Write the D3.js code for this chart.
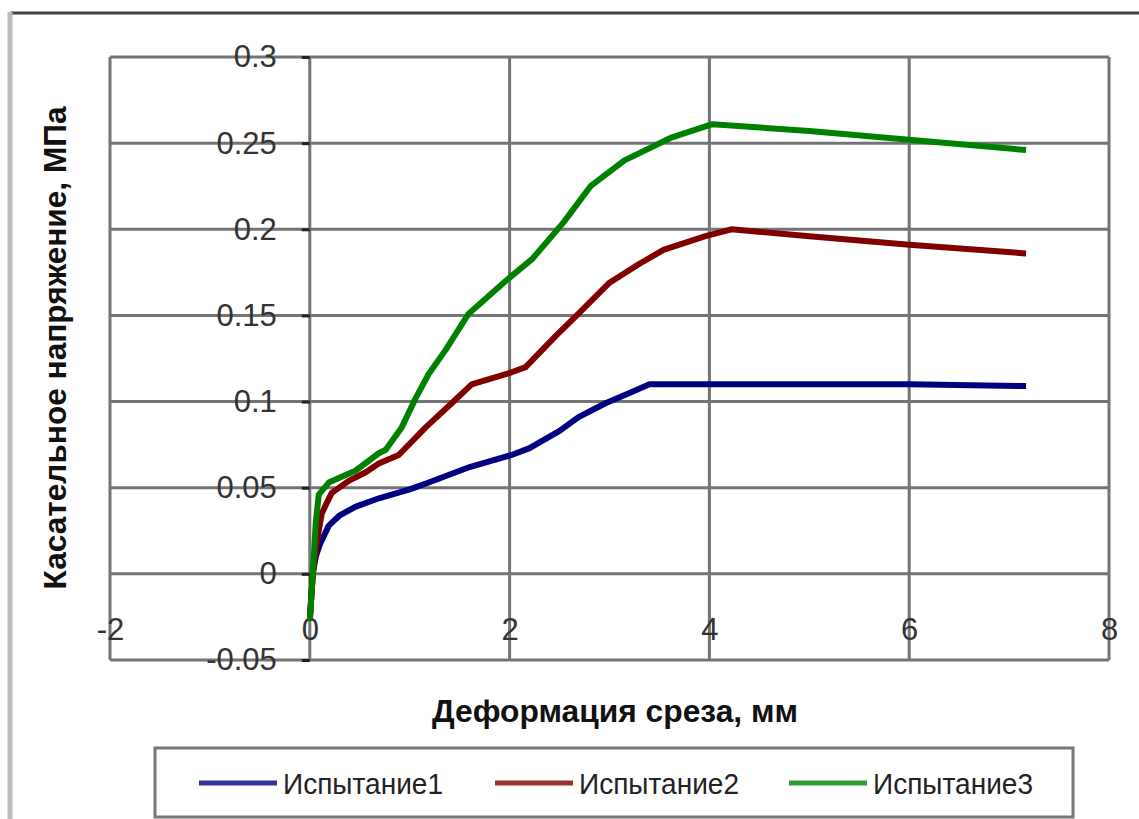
<!DOCTYPE html>
<html>
<head>
<meta charset="utf-8">
<script src="https://cdn.jsdelivr.net/npm/d3@7"></script>
<style>
  html, body { margin: 0; padding: 0; background: #fff; }
  svg { display: block; }
  text { font-family: "Liberation Sans", Arial, sans-serif; }
</style>
</head>
<body>
<svg id="chart" width="1139" height="819"></svg>
<script>
// Shear test: shear stress vs. shear deformation, three runs
const seriesNames = ["Испытание1", "Испытание2", "Испытание3"];
const seriesColors = ["#000080", "#800000", "#008000"];

const test1X = [0, 0.03, 0.06, 0.1, 0.19, 0.3, 0.46, 0.7, 1.0, 1.19, 1.6, 2.02, 2.2, 2.5, 2.69, 2.96, 3.2, 3.4, 4.0, 5.0, 6.0, 7.17];
const test1Y = [-0.027, 0.0, 0.010, 0.017, 0.028, 0.034, 0.039, 0.044, 0.049, 0.053, 0.062, 0.069, 0.073, 0.083, 0.091, 0.099, 0.105, 0.110, 0.110, 0.110, 0.110, 0.109];

const test2X = [0, 0.03, 0.08, 0.12, 0.16, 0.22, 0.39, 0.56, 0.69, 0.89, 1.16, 1.42, 1.62, 2.02, 2.16, 2.46, 2.69, 3.0, 3.3, 3.54, 3.96, 4.22, 5.0, 6.0, 7.17];
const test2Y = [-0.027, 0.0, 0.022, 0.035, 0.040, 0.047, 0.054, 0.059, 0.064, 0.069, 0.085, 0.099, 0.110, 0.117, 0.120, 0.138, 0.151, 0.169, 0.180, 0.188, 0.196, 0.200, 0.196, 0.191, 0.186];

const test3X = [0, 0.03, 0.06, 0.09, 0.19, 0.46, 0.69, 0.76, 0.92, 1.06, 1.19, 1.36, 1.59, 1.96, 2.23, 2.54, 2.81, 3.15, 3.61, 4.03, 5.0, 6.0, 7.17];
const test3Y = [-0.027, 0.0, 0.030, 0.046, 0.053, 0.060, 0.070, 0.072, 0.085, 0.102, 0.116, 0.130, 0.151, 0.170, 0.183, 0.204, 0.225, 0.240, 0.253, 0.261, 0.257, 0.252, 0.246];

const xTicks = [-2, 0, 2, 4, 6, 8];
const xTickLabels = ["-2", "0", "2", "4", "6", "8"];
const yTicks = [-0.05, 0, 0.05, 0.1, 0.15, 0.2, 0.25, 0.3];
const yTickLabels = ["-0.05", "0", "0.05", "0.1", "0.15", "0.2", "0.25", "0.3"];

const xTitle = "Деформация среза, мм";
const yTitle = "Касательное напряжение, МПа";

const seriesX = [test1X, test2X, test3X];
const seriesY = [test1Y, test2Y, test3Y];
const series = seriesNames.map((name, i) => ({
  name,
  color: seriesColors[i],
  points: seriesX[i].map((x, j) => ({ x, y: seriesY[i][j] }))
}));

const svg = d3.select("#chart");
const plot = { left: 110, right: 1109, top: 57, bottom: 660 };

const x = d3.scaleLinear().domain([-2, 8]).range([plot.left, plot.right]);
const y = d3.scaleLinear().domain([-0.05, 0.3]).range([plot.bottom, plot.top]);

// outer chart frame
svg.append("line").attr("x1", 10).attr("x2", 1139).attr("y1", 13).attr("y2", 13)
  .attr("stroke", "#444").attr("stroke-width", 3);
svg.append("line").attr("x1", 10).attr("x2", 10).attr("y1", 12).attr("y2", 819)
  .attr("stroke", "#bbb").attr("stroke-width", 5);

const gridColor = "#747474";

// gridlines
const grid = svg.append("g");
grid.selectAll("line.h").data(yTicks).join("line")
  .attr("x1", plot.left).attr("x2", plot.right)
  .attr("y1", d => y(d)).attr("y2", d => y(d))
  .attr("stroke", gridColor).attr("stroke-width", 3);
grid.selectAll("line.v").data(xTicks).join("line")
  .attr("y1", plot.top).attr("y2", plot.bottom)
  .attr("x1", d => x(d)).attr("x2", d => x(d))
  .attr("stroke", gridColor).attr("stroke-width", 3);

// y axis crosses at x = 0
const yAxis = d3.axisLeft(y).tickValues(yTicks)
  .tickFormat((d, i) => yTickLabels[i]).tickSizeInner(8).tickSizeOuter(0).tickPadding(25);
const gy = svg.append("g").attr("transform", `translate(${x(0)},0)`).call(yAxis);
gy.select(".domain").remove();
gy.selectAll(".tick line").attr("stroke", "#222").attr("stroke-width", 3);
gy.selectAll(".tick text").attr("font-size", 31).attr("fill", "#333")
  .style("font-family", '"Liberation Sans", Arial, sans-serif');

// x axis crosses at y = 0
const xAxis = d3.axisBottom(x).tickValues(xTicks)
  .tickFormat((d, i) => xTickLabels[i]).tickSize(0).tickPadding(44);
const gx = svg.append("g").attr("transform", `translate(0,${y(0)})`).call(xAxis);
gx.select(".domain").remove();
gx.selectAll(".tick text").attr("font-size", 31).attr("fill", "#333")
  .style("font-family", '"Liberation Sans", Arial, sans-serif');

// series lines
const line = d3.line().x(d => x(d.x)).y(d => y(d.y)).curve(d3.curveLinear);
svg.append("g").selectAll("path").data(series).join("path")
  .attr("d", d => line(d.points))
  .attr("fill", "none")
  .attr("stroke", d => d.color)
  .attr("stroke-width", 6)
  .attr("stroke-linejoin", "round");

// axis titles
svg.append("text")
  .attr("x", 615).attr("y", 722)
  .attr("text-anchor", "middle")
  .attr("font-size", 31).attr("font-weight", "bold").attr("fill", "#111")
  .attr("textLength", 366).attr("lengthAdjust", "spacingAndGlyphs")
  .text(xTitle);
svg.append("text")
  .attr("transform", "translate(66,348) rotate(-90)")
  .attr("text-anchor", "middle")
  .attr("font-size", 31).attr("font-weight", "bold").attr("fill", "#111")
  .attr("textLength", 483).attr("lengthAdjust", "spacingAndGlyphs")
  .text(yTitle);

// legend
const legend = svg.append("g");
legend.append("rect")
  .attr("x", 155).attr("y", 748).attr("width", 918).attr("height", 69)
  .attr("fill", "#fff").attr("stroke", "#777").attr("stroke-width", 3);
const legendX = [199, 495, 789];
const items = legend.selectAll("g.item").data(series).join("g")
  .attr("transform", (d, i) => `translate(${legendX[i]},783)`);
items.append("line").attr("x1", 0).attr("x2", 78)
  .attr("stroke", d => d.color).attr("stroke-width", 5).attr("stroke-opacity", 0.8);
items.append("text").attr("x", 84).attr("dy", "0.35em")
  .attr("font-size", 30).attr("fill", "#222")
  .attr("textLength", 160).attr("lengthAdjust", "spacingAndGlyphs")
  .text(d => d.name);
</script>
</body>
</html>
